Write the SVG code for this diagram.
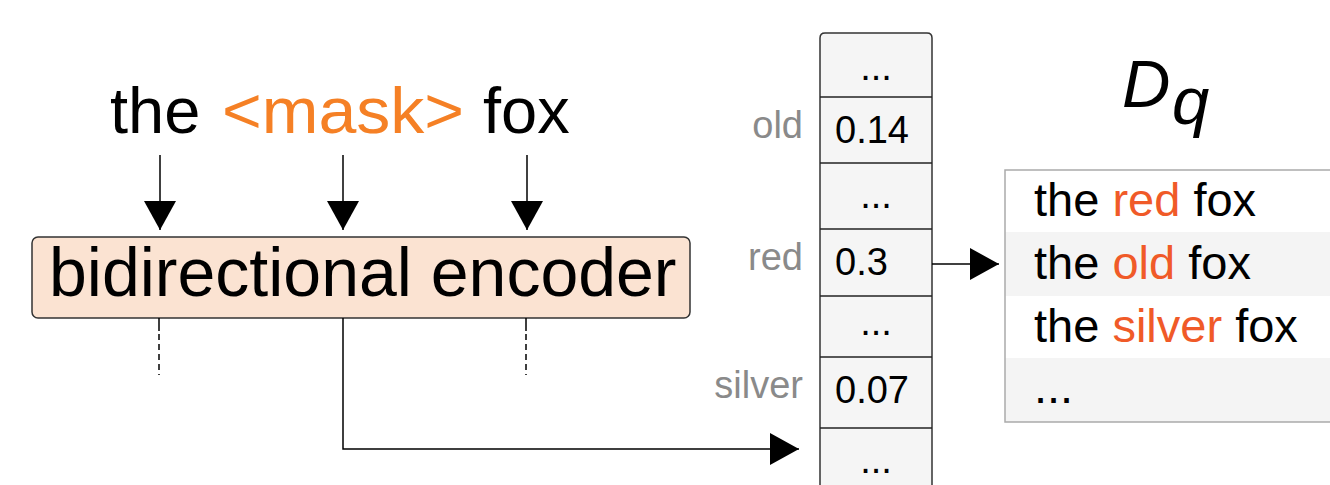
<svg xmlns="http://www.w3.org/2000/svg" width="1330" height="485" viewBox="0 0 1330 485">
<defs>
<style>
text{font-family:"Liberation Sans",Arial,Helvetica,sans-serif;}
.gray{fill:#8a8a8a;font-size:38px;}
.num{font-size:38px;fill:#000;}
.row{font-size:47px;fill:#000;}
.hl{fill:#f05a28;}
.ln{stroke:#000;stroke-width:1.5;fill:none;}
.dash{stroke:#000;stroke-width:1.5;fill:none;stroke-dasharray:13 3 6 4 6 4 6 4 6 4 6;}
.div{stroke:#222;stroke-width:1.5;}
</style>
<marker id="ah" viewBox="0 0 29 32" refX="29" refY="16" markerWidth="29" markerHeight="32" markerUnits="userSpaceOnUse" orient="auto">
<path d="M0,0 L29,16 L0,32 z" fill="#000"/>
</marker>
</defs>
<rect width="1330" height="485" fill="#fff"/>

<g id="input-tokens">
<text x="110" y="133" font-size="65">the</text>
<text x="222" y="133" font-size="65" fill="#f58025" textLength="242" lengthAdjust="spacingAndGlyphs">&lt;mask&gt;</text>
<text x="483" y="133" font-size="65">fox</text>
</g>

<g id="encoder">
<rect x="32" y="237" width="658" height="81" rx="6" fill="#fbe3d2" stroke="#333" stroke-width="1.5"/>
<text x="49" y="296" font-size="68">bidirectional encoder</text>
</g>

<g id="prob-column">
<path d="M820,495 V38 Q820,33 825,33 H927 Q932,33 932,38 V495" fill="#f5f5f5" stroke="#333" stroke-width="1.5"/>
<line class="div" x1="820" y1="97" x2="932" y2="97"/>
<line class="div" x1="820" y1="163" x2="932" y2="163"/>
<line class="div" x1="820" y1="229" x2="932" y2="229"/>
<line class="div" x1="820" y1="296" x2="932" y2="296"/>
<line class="div" x1="820" y1="357" x2="932" y2="357"/>
<line class="div" x1="820" y1="428" x2="932" y2="428"/>
<text class="num" x="876" y="80" text-anchor="middle">...</text>
<text class="num" x="835" y="143">0.14</text>
<text class="num" x="876" y="208" text-anchor="middle">...</text>
<text class="num" x="835" y="275">0.3</text>
<text class="num" x="876" y="335" text-anchor="middle">...</text>
<text class="num" x="835" y="403">0.07</text>
<text class="num" x="876" y="473" text-anchor="middle">...</text>
<text class="gray" x="803" y="138" text-anchor="end">old</text>
<text class="gray" x="803" y="270" text-anchor="end">red</text>
<text class="gray" x="803" y="398" text-anchor="end">silver</text>
</g>

<g id="dq-label">
<text x="1122" y="107" font-size="67" font-style="italic">D</text>
<text x="1172" y="124" font-size="67" font-style="italic">q</text>
</g>

<g id="dq-list">
<rect x="1005" y="170" width="340" height="252" fill="#fff"/>
<rect x="1005" y="232" width="340" height="64" fill="#f4f4f4"/>
<rect x="1005" y="358" width="340" height="64" fill="#f4f4f4"/>
<rect x="1005" y="170" width="340" height="252" fill="none" stroke="#aaa" stroke-width="1.5"/>
<text class="row" x="1034" y="216">the <tspan class="hl">red</tspan> fox</text>
<text class="row" x="1034" y="279">the <tspan class="hl">old</tspan> fox</text>
<text class="row" x="1034" y="342">the <tspan class="hl">silver</tspan> fox</text>
<text class="row" x="1034" y="403">...</text>
</g>

<g id="connectors">
<line class="ln" x1="160" y1="155" x2="160" y2="230" marker-end="url(#ah)"/>
<line class="ln" x1="343" y1="155" x2="343" y2="230" marker-end="url(#ah)"/>
<line class="ln" x1="527" y1="155" x2="527" y2="230" marker-end="url(#ah)"/>
<line class="dash" x1="159" y1="318" x2="159" y2="375"/>
<line class="dash" x1="526" y1="318" x2="526" y2="375"/>
<path class="ln" d="M343,318 V449 H799" marker-end="url(#ah)"/>
<line class="ln" x1="932" y1="264" x2="999" y2="264" marker-end="url(#ah)"/>
</g>
</svg>
